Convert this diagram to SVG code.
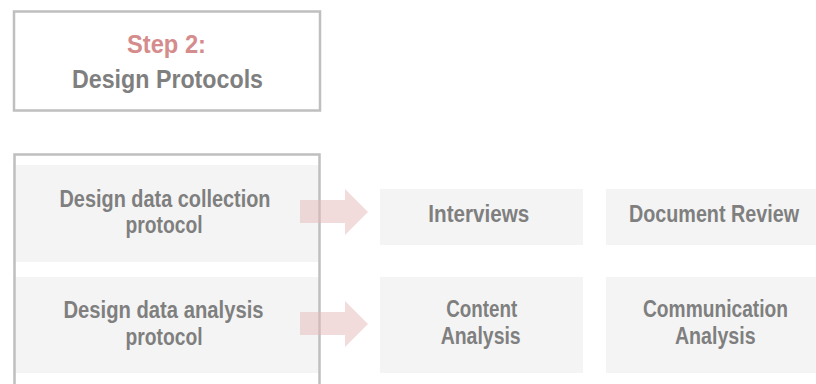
<svg xmlns="http://www.w3.org/2000/svg" width="816" height="384" viewBox="0 0 816 384">
<style>
.frame{fill:#ffffff;stroke:#bfbfbf;stroke-width:2.5}
.cell{fill:#f4f4f4}
.t{font-family:"Liberation Sans Narrow","Liberation Sans",Arial,sans-serif;font-weight:bold;fill:#7f7f7f;text-anchor:middle;font-size:23px}
.h{font-size:25px}
.step{fill:#d48c8c}
.arrow{fill:#e6b8b8;opacity:0.5}
</style>
<rect width="816" height="384" fill="#ffffff"/>
<g id="step-header">
<rect class="frame" x="14" y="11.5" width="306" height="99"/>
<text class="t h step" x="166.5" y="53" textLength="79" lengthAdjust="spacingAndGlyphs">Step 2:</text>
<text class="t h" x="167.5" y="87.5" textLength="191" lengthAdjust="spacingAndGlyphs">Design Protocols</text>
</g>
<g id="protocols">
<rect class="cell" x="14" y="165" width="306" height="97"/>
<rect class="cell" x="14" y="277" width="306" height="96"/>
<rect x="14.5" y="154.5" width="305" height="240" fill="none" stroke="#bfbfbf" stroke-width="2.5"/>
</g>
<g id="collection-protocol">
<text class="t" x="165" y="206.5" textLength="211" lengthAdjust="spacingAndGlyphs">Design data collection</text>
<text class="t" x="164" y="233" textLength="77" lengthAdjust="spacingAndGlyphs">protocol</text>
</g>
<g id="analysis-protocol">
<text class="t" x="163.5" y="318" textLength="200" lengthAdjust="spacingAndGlyphs">Design data analysis</text>
<text class="t" x="164" y="344.5" textLength="77" lengthAdjust="spacingAndGlyphs">protocol</text>
</g>
<g id="connectors">
<polygon class="arrow" points="300,200 345,200 345,189 368,212 345,235 345,223 300,223"/>
<polygon class="arrow" points="300,312 345,312 345,301 368,324 345,347 345,335 300,335"/>
</g>
<g id="interviews">
<rect class="cell" x="380" y="189" width="203" height="56"/>
<text class="t" x="478.8" y="221.7" textLength="101" lengthAdjust="spacingAndGlyphs">Interviews</text>
</g>
<g id="document-review">
<rect class="cell" x="606" y="189" width="210" height="56"/>
<text class="t" x="714" y="221.7" textLength="170" lengthAdjust="spacingAndGlyphs">Document Review</text>
</g>
<g id="content-analysis">
<rect class="cell" x="380" y="277" width="203" height="96"/>
<text class="t" x="481.7" y="316.7" textLength="71" lengthAdjust="spacingAndGlyphs">Content</text>
<text class="t" x="480.7" y="344" textLength="80" lengthAdjust="spacingAndGlyphs">Analysis</text>
</g>
<g id="communication-analysis">
<rect class="cell" x="606" y="277" width="210" height="96"/>
<text class="t" x="715.5" y="316.7" textLength="145" lengthAdjust="spacingAndGlyphs">Communication</text>
<text class="t" x="715.3" y="344" textLength="80.7" lengthAdjust="spacingAndGlyphs">Analysis</text>
</g>
</svg>
